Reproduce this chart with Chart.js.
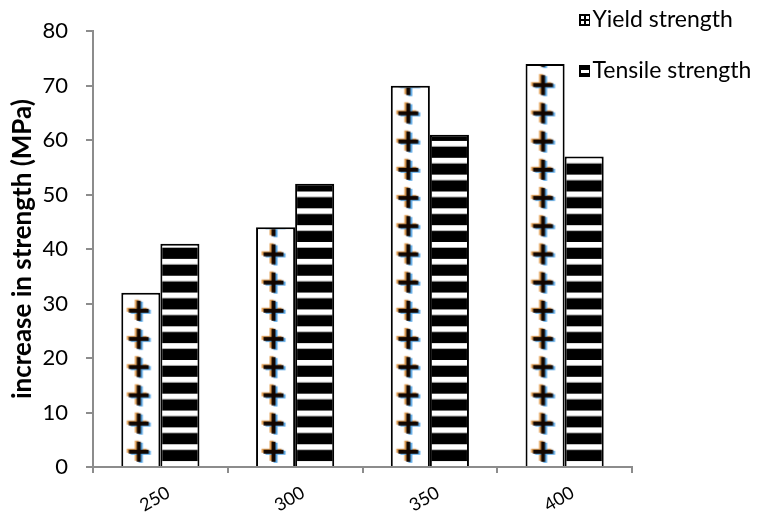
<!DOCTYPE html>
<html>
<head>
<meta charset="utf-8">
<script src="https://cdn.jsdelivr.net/npm/chart.js@4"></script>
<style>
html,body{margin:0;padding:0;background:#fff;}
canvas{display:block;}
</style>
</head>
<body>
<canvas id="c" width="758" height="529"></canvas>
<script>
// ---- data ----
const categories = ['250', '300', '350', '400'];
const yieldStrength = [32, 44, 70, 74];
const tensileStrength = [41, 52, 61, 57];
const seriesNames = ['Yield strength', 'Tensile strength'];
const yTickValues = [0, 10, 20, 30, 40, 50, 60, 70, 80];
const yTitle = 'increase in strength (MPa)';

// ---- styles ----
const FONT = 'Lato';
const AXIS_GREY = '#8c8c8c';
const CAT_PCT = 0.58;
const PLUS_PERIOD = 28.2;
const STRIPE_PERIOD = 16.85;

function makePlusTile() {
  const t = document.createElement('canvas');
  t.width = 60; t.height = 28;
  const g = t.getContext('2d');
  g.fillStyle = '#fff'; g.fillRect(0, 0, 60, 28);
  const cx = 17.5, cy = 12.8, L = 20, T = 4, V = 20;
  function plus(dx, dy, col) {
    g.fillStyle = col;
    g.fillRect(cx - L / 2 + dx, cy - T / 2 + dy, L, T);
    g.fillRect(cx - T / 2 + dx, cy - V / 2 + dy, T, V);
  }
  plus(-2, -1, '#e3a055');
  plus(2, 1, '#5aa8e6');
  plus(0, 0, '#120600');
  return t;
}
function makeStripeTile() {
  const t = document.createElement('canvas');
  t.width = 8; t.height = 17;
  const g = t.getContext('2d');
  g.fillStyle = '#000'; g.fillRect(0, 0, 8, 11);
  g.fillStyle = '#fff'; g.fillRect(0, 11, 8, 5);
  g.fillStyle = '#b0b0b0'; g.fillRect(0, 16, 8, 1);
  return t;
}
function makeLegendIcon(kind) {
  const t = document.createElement('canvas');
  t.width = 30; t.height = 14;
  const g = t.getContext('2d');
  const x0 = 19, y0 = 1;
  g.fillStyle = '#000'; g.fillRect(x0, y0, 12, 12);
  g.fillStyle = '#fff';
  if (kind === 0) {
    g.fillRect(x0 + 2, y0 + 2, 8, 8);
    g.fillStyle = '#000';
    g.fillRect(x0 + 5, y0 + 2, 2, 8);
    g.fillRect(x0 + 2, y0 + 5, 8, 2);
  } else {
    g.fillRect(x0 + 2, y0 + 5, 8, 3);
  }
  return t;
}

const plusTile = makePlusTile();
const stripeTile = makeStripeTile();
const legendIcons = [makeLegendIcon(0), makeLegendIcon(1)];
const ctx = document.getElementById('c').getContext('2d');

function barLeft(c, dsIndex) {
  const xs = c.chart.scales.x;
  const center = xs.getPixelForValue(c.dataIndex);
  const bw = (xs.right - xs.left) / categories.length * CAT_PCT / 2;
  return dsIndex === 0 ? center - bw : center;
}
function yieldFill(c) {
  if (c.type !== 'data' || !c.chart.scales.x) return '#fff';
  const p = ctx.createPattern(plusTile, 'repeat');
  const y0 = c.chart.scales.y.getPixelForValue(0);
  p.setTransform(new DOMMatrix().translate(barLeft(c, 0), y0).scale(1, PLUS_PERIOD / 28));
  return p;
}
function tensileFill(c) {
  if (c.type !== 'data' || !c.chart.scales.x) return '#000';
  const p = ctx.createPattern(stripeTile, 'repeat');
  const y0 = c.chart.scales.y.getPixelForValue(0);
  p.setTransform(new DOMMatrix().translate(barLeft(c, 1), y0).scale(1, STRIPE_PERIOD / 17));
  return p;
}

const legendPlacer = {
  id: 'legendPlacer',
  beforeLayout(chart) {
    const lg = chart.legend;
    if (lg && !lg._patched) {
      const origFit = lg.fit;
      lg.fit = function () { origFit.call(this); this.width = 126; };
      lg._patched = true;
    }
  },
  afterLayout(chart) {
    const lg = chart.legend;
    if (!lg) return;
    lg.left = 541; lg.right = 758; lg.width = 217;
    lg.top = -19.5; lg.bottom = 529; lg.height = 548.5;
  }
};

new Chart(ctx, {
  type: 'bar',
  data: {
    labels: categories,
    datasets: [
      { label: seriesNames[0], data: yieldStrength, backgroundColor: yieldFill,
        borderColor: '#000', borderWidth: 2, categoryPercentage: CAT_PCT, barPercentage: 1 },
      { label: seriesNames[1], data: tensileStrength, backgroundColor: tensileFill,
        borderColor: '#000', borderWidth: 2, categoryPercentage: CAT_PCT, barPercentage: 1 }
    ]
  },
  options: {
    responsive: false,
    animation: false,
    devicePixelRatio: 1,
    layout: { padding: { top: 23, left: 0, right: 0, bottom: 0 } },
    plugins: {
      tooltip: { enabled: false },
      legend: {
        position: 'right',
        align: 'start',
        labels: {
          usePointStyle: true,
          boxWidth: 12,
          boxHeight: 12,
          padding: 28,
          color: '#000',
          font: { family: FONT, size: 23 },
          generateLabels: () => seriesNames.map((name, i) => ({
            text: name, pointStyle: legendIcons[i], datasetIndex: i,
            fillStyle: '#000', strokeStyle: '#000', lineWidth: 0, hidden: false
          }))
        }
      }
    },
    scales: {
      x: {
        offset: true,
        grid: { drawOnChartArea: false, drawTicks: true, tickLength: 6, color: AXIS_GREY, lineWidth: 2, offset: true },
        border: { color: AXIS_GREY, width: 2 },
        ticks: { minRotation: 30, maxRotation: 30, labelOffset: 8, padding: 9, color: '#000',
                 font: { family: FONT, size: 18 } },
        afterFit: s => { s.height = 62; }
      },
      y: {
        min: 0, max: 80,
        afterBuildTicks: s => { s.ticks = yTickValues.map(v => ({ value: v })); },
        grid: { drawOnChartArea: false, drawTicks: true, tickLength: 7, color: AXIS_GREY, lineWidth: 2 },
        border: { color: AXIS_GREY, width: 2 },
        ticks: { padding: 18, color: '#000', font: { family: FONT, size: 22 } },
        title: { display: true, text: yTitle, color: '#000',
                 font: { family: FONT, size: 26, weight: 'bold' }, padding: { top: 7, bottom: 0 } },
        afterFit: s => { s.width = 93; }
      }
    }
  },
  plugins: [legendPlacer]
});
</script>
</body>
</html>
